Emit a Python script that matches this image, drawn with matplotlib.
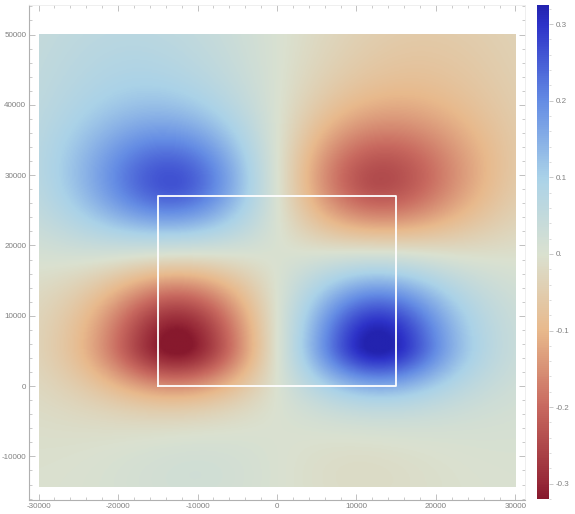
import numpy as np
import matplotlib.pyplot as plt
from matplotlib.colors import LinearSegmentedColormap
from matplotlib.ticker import MultipleLocator, FuncFormatter

plt.rcParams['font.family'] = ['Liberation Sans', 'DejaVu Sans']

# field lobes: centre (x, y), peak value, spread left/right and below/above
lobe_x = [-12500, 12500, -12700, 12200, -18000, 18000, -26000, 26000, -10000, 10000]
lobe_y = [6000, 6000, 28500, 28800, 46000, 46000, 8000, 8000, -12000, -12000]
lobe_amp = [-0.335, 0.335, 0.26, -0.245, 0.07, -0.06, -0.02, 0.02, 0.025, -0.02]
lobe_sx = [7200, 7200, 9500, 9500, 14000, 14000, 10000, 10000, 9000, 9000]
lobe_sy_lo = [4900, 4900, 7000, 7000, 14000, 14000, 12000, 12000, 6000, 6000]
lobe_sy_hi = [8000, 8000, 7200, 7200, 14000, 14000, 12000, 12000, 6000, 6000]

# plotted region and the outlined rectangle
x_range = [-30000, 30000]
y_range = [-14300, 50000]
box_x = [-15000, 15000]
box_y = [0, 27000]

vmin, vmax = -0.32, 0.325
cbar_ticks = [-0.3, -0.2, -0.1, 0.0, 0.1, 0.2, 0.3]

# thermometer-like palette, red (low) to blue (high)
stops = [0.0, 0.031, 0.186, 0.341, 0.496, 0.651, 0.806, 0.961, 1.0]
cols = [(135, 25, 45), (150, 40, 55), (200, 105, 95), (232, 185, 140),
        (218, 225, 208), (170, 210, 232), (100, 140, 228), (45, 50, 200),
        (35, 35, 175)]
cmap = LinearSegmentedColormap.from_list(
    "thermo", [(s, tuple(c / 255 for c in rgb)) for s, rgb in zip(stops, cols)])

xs = np.linspace(x_range[0], x_range[1], 400)
ys = np.linspace(y_range[0], y_range[1], 430)
X, Y = np.meshgrid(xs, ys)
Z = np.zeros_like(X)
for cx, cy, a, sx, slo, shi in zip(lobe_x, lobe_y, lobe_amp, lobe_sx, lobe_sy_lo, lobe_sy_hi):
    sy = np.where(Y < cy, slo, shi)
    q = (X - cx) ** 2 / (2 * sx ** 2) + (Y - cy) ** 2 / (2 * sy ** 2)
    Z += a * np.exp(-q ** 0.9)

fig = plt.figure(figsize=(5.75, 5.14), dpi=100)
ax = fig.add_axes([29 / 575, 14 / 514, 496 / 575, 495 / 514])
cax = fig.add_axes([537 / 575, 15 / 514, 12 / 575, 494 / 514])

im = ax.imshow(Z, origin="lower", cmap=cmap, vmin=vmin, vmax=vmax,
               extent=[x_range[0], x_range[1], y_range[0], y_range[1]],
               interpolation="bilinear", aspect="auto")
ax.plot([box_x[0], box_x[1], box_x[1], box_x[0], box_x[0]],
        [box_y[0], box_y[0], box_y[1], box_y[1], box_y[0]],
        color="white", lw=1.3)

ax.set_xlim(-31200, 31200)
ax.set_ylim(-16200, 54200)


def thousands(v, pos):
    return f"{int(round(v)):d}"


ax.xaxis.set_major_locator(MultipleLocator(10000))
ax.xaxis.set_minor_locator(MultipleLocator(2000))
ax.yaxis.set_major_locator(MultipleLocator(10000))
ax.yaxis.set_minor_locator(MultipleLocator(2000))
ax.xaxis.set_major_formatter(FuncFormatter(thousands))
ax.yaxis.set_major_formatter(FuncFormatter(thousands))
ax.tick_params(which="both", direction="in", top=True, right=True,
               color="#b5b5b5", labelcolor="#808080", labelsize=5.8, pad=2)
ax.tick_params(which="major", length=4, width=0.6)
ax.tick_params(which="minor", length=2, width=0.5)
for side in ["left", "bottom"]:
    ax.spines[side].set_color("#b0b0b0")
    ax.spines[side].set_linewidth(0.8)
for side in ["top", "right"]:
    ax.spines[side].set_color("#ececec")
    ax.spines[side].set_linewidth(0.6)

cb = fig.colorbar(im, cax=cax)
cb.outline.set_visible(False)
cb.set_ticks(cbar_ticks)
cb.set_ticklabels([("0." if t == 0 else f"{t:.1f}") for t in cbar_ticks])
cax.yaxis.set_minor_locator(MultipleLocator(0.02))
cax.tick_params(which="both", direction="out", color="#c0c0c0",
                labelcolor="#808080", labelsize=5.8, pad=2)
cax.tick_params(which="major", length=3, width=0.6)
cax.tick_params(which="minor", length=1.5, width=0.4)

fig.savefig("out.png", dpi=100)
